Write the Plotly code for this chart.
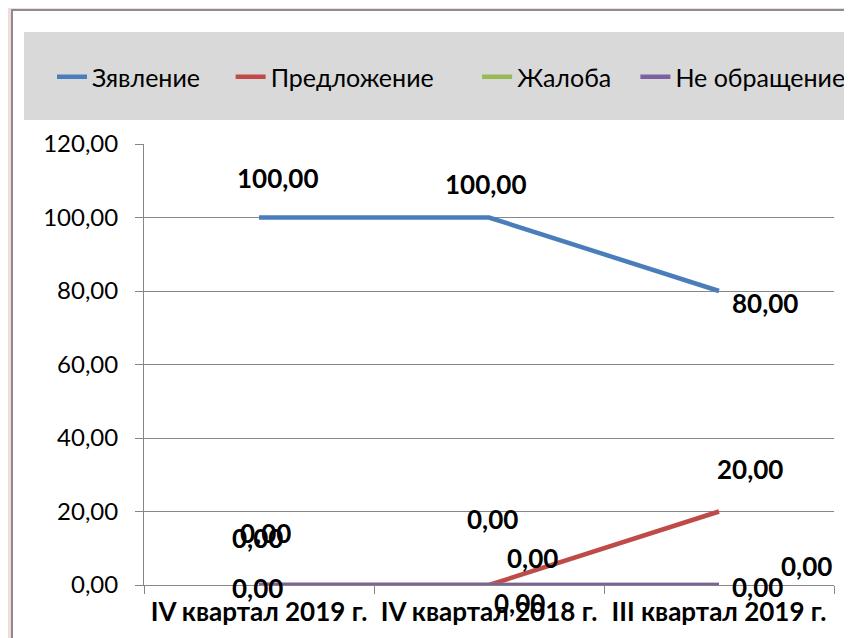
import plotly.graph_objects as go

categories = ["IV квартал 2019 г.", "IV квартал 2018 г.", "III квартал 2019 г."]
series_names = ["Зявление", "Предложение", "Жалоба", "Не обращение"]
zayavlenie = [100.0, 100.0, 80.0]
predlozhenie = [0.0, 0.0, 20.0]
zhaloba = [0.0, 0.0, 0.0]
ne_obrashchenie = [0.0, 0.0, 0.0]
y_ticks = [0, 20, 40, 60, 80, 100, 120]

values = [zayavlenie, predlozhenie, zhaloba, ne_obrashchenie]
colors = ["#4A7EBB", "#BE4B48", "#98B954", "#7D60A0"]

# label pixel offsets (dx, dy) per series per point (screen px, dy positive = up)
label_offsets = [
    [(18, 40), (-4, 34), (46, -12)],
    [(-2, 47), (43, 27), (31, 43)],
    [(6, 52), (3, 66), (87, 19)],
    [(-2, -3), (30, -18), (38, -2)],
]
# extra trailing spacing after each legend entry (non-breaking spaces)
legend_pad = [4, 6, 3, 0]

def fmt(v):
    return f"{v:.2f}".replace(".", ",")

FONT = "Lato"
fig = go.Figure()
for name, vals, col, pad in zip(series_names, values, colors, legend_pad):
    fig.add_trace(go.Scatter(x=categories, y=vals, name=name + "\u00a0" * pad, mode="lines",
                             line=dict(color=col, width=4.5)))

for vals, offs in zip(values, label_offsets):
    for c, v, (dx, dy) in zip(categories, vals, offs):
        fig.add_annotation(x=c, y=v, text=f"<b>{fmt(v)}</b>", showarrow=False,
                           xshift=dx, yshift=dy,
                           font=dict(family=FONT, size=26, color="black"))

PW, PH = 690.0, 441.0
# white frame and legend box (screen px relative to plot area at x=144, y0=585)
fig.add_shape(type="rect", xref="paper", yref="paper",
              x0=(12 - 144) / PW, x1=1 + 40 / PW, y0=-80 / PH, y1=(585 - 10) / PH,
              fillcolor="white", line=dict(color="#8C8C8C", width=2), layer="below")
fig.add_shape(type="rect", xref="paper", yref="paper",
              x0=(24 - 144) / PW, x1=1 + 40 / PW, y0=(585 - 120) / PH, y1=(585 - 32) / PH,
              fillcolor="#D9D9D9", line=dict(width=0), layer="below")

fig.update_layout(
    width=844, height=630,
    margin=dict(l=136, r=18, t=136, b=53),
    paper_bgcolor="#F2DCDB",
    plot_bgcolor="rgba(0,0,0,0)",
    font=dict(family=FONT, size=22, color="black"),
    showlegend=True,
    legend=dict(orientation="h", x=(52 - 144) / PW, y=(585 - 77) / PH,
                xanchor="left", yanchor="middle",
                bgcolor="rgba(0,0,0,0)", font=dict(family=FONT, size=25),
                itemwidth=30, tracegroupgap=0),
    xaxis=dict(type="category", range=[-0.5, 2.5], showgrid=False,
               showline=True, linecolor="#868686", linewidth=1,
               ticks="outside", ticklen=8, tickcolor="#868686", tickson="boundaries",
               ticklabelstandoff=4,
               tickfont=dict(family=FONT, size=26, color="black"),
               tickvals=categories, ticktext=[f"<b>{c}</b>" for c in categories]),
    yaxis=dict(range=[0, 120], tickvals=y_ticks,
               ticktext=[fmt(v) for v in y_ticks],
               showgrid=True, gridcolor="#868686", gridwidth=1,
               showline=True, linecolor="#868686", linewidth=1,
               ticks="outside", ticklen=8, tickcolor="#868686",
               zeroline=False, ticklabelstandoff=12,
               tickfont=dict(family=FONT, size=24, color="black")),
)
fig.write_html("out.html")
